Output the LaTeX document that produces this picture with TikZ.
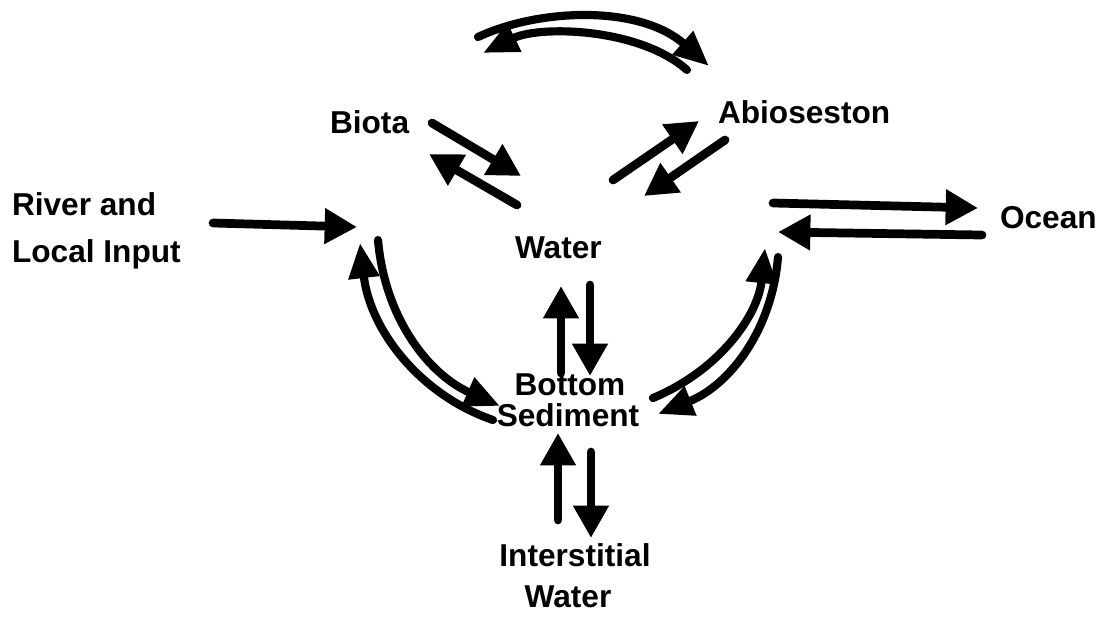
\documentclass[tikz,border=0pt]{standalone}
\usepackage{fontspec}
\setmainfont{Liberation Sans}
\usetikzlibrary{arrows.meta}
\tikzset{
  lbl/.style={inner sep=0pt, outer sep=0pt, font=\fontsize{22.5}{26}\selectfont\bfseries},
  flow/.style={line width=6.2pt, line cap=round, -{Triangle[length=23pt,width=24pt]}},
  arcflow/.style={line width=5.8pt, line cap=round, -{Triangle[length=25pt,width=21pt]}}
}
\begin{document}
\begin{tikzpicture}[x=0.025cm,y=-0.025cm]
\path[use as bounding box] (0,0) rectangle (1104,619);
% labels
\node[lbl,anchor=base west] (river1) at (12,215) {River and};
\node[lbl,anchor=base west] (river2) at (12,262) {Local Input};
\node[lbl,anchor=base west] (biota) at (330,133) {Biota};
\node[lbl,anchor=base west] (abio) at (718,123) {Abioseston};
\node[lbl,anchor=base west] (water) at (515,258) {Water};
\node[lbl,anchor=base west] (ocean) at (1000,228) {Ocean};
\node[lbl,anchor=base] (bottom) at (570,395) {Bottom};
\node[lbl,anchor=base] (sediment) at (568,426) {Sediment};
\node[lbl,anchor=base] (inter) at (575,566) {Interstitial};
\node[lbl,anchor=base] (iwater) at (568,607) {Water};
% endpoints
\coordinate (rA) at (213,223); \coordinate (rB) at (357,227);
\coordinate (oA) at (773,203); \coordinate (oB) at (978,208);
\coordinate (oC) at (982,235); \coordinate (oD) at (778,232);
\coordinate (bA) at (432,123); \coordinate (bB) at (521,176);
\coordinate (bC) at (517,205); \coordinate (bD) at (429,154);
\coordinate (aA) at (613,180); \coordinate (aB) at (699,121);
\coordinate (aC) at (725,140); \coordinate (aD) at (644,196);
\coordinate (wU0) at (561,373); \coordinate (wU1) at (561,286);
\coordinate (wD0) at (590,285); \coordinate (wD1) at (590,376);
\coordinate (sU0) at (558,520); \coordinate (sU1) at (558,433);
\coordinate (sD0) at (591,452); \coordinate (sD1) at (591,538);
\coordinate (tA) at (478,37); \coordinate (tB) at (709,66);
\coordinate (tC) at (687,70); \coordinate (tD) at (483,53);
\coordinate (lA) at (493,420); \coordinate (lB) at (360,243);
\coordinate (lC) at (378,240); \coordinate (lD) at (500,406);
\coordinate (gA) at (653,398); \coordinate (gB) at (765,248);
\coordinate (gC) at (778,257); \coordinate (gD) at (658,414);
% straight arrows
\draw[flow] (rA) -- (rB);
\draw[flow] (oA) -- (oB);
\draw[flow] (oC) -- (oD);
\draw[flow] (bA) -- (bB);
\draw[flow] (bC) -- (bD);
\draw[flow] (aA) -- (aB);
\draw[flow] (aC) -- (aD);
\draw[flow] (wU0) -- (wU1);
\draw[flow] (wD0) -- (wD1);
\draw[flow] (sU0) -- (sU1);
\draw[flow] (sD0) -- (sD1);
% curved arrows
\draw[arcflow] (tA) .. controls (540,8) and (640,5) .. (tB);
\draw[arcflow] (tC) .. controls (640,28) and (540,25) .. (tD);
\draw[arcflow] (lA) .. controls (420,395) and (370,330) .. (lB);
\draw[arcflow] (lC) .. controls (385,320) and (430,375) .. (lD);
\draw[arcflow] (gA) .. controls (720,370) and (758,315) .. (gB);
\draw[arcflow] (gC) .. controls (772,330) and (730,385) .. (gD);
\end{tikzpicture}
\end{document}
